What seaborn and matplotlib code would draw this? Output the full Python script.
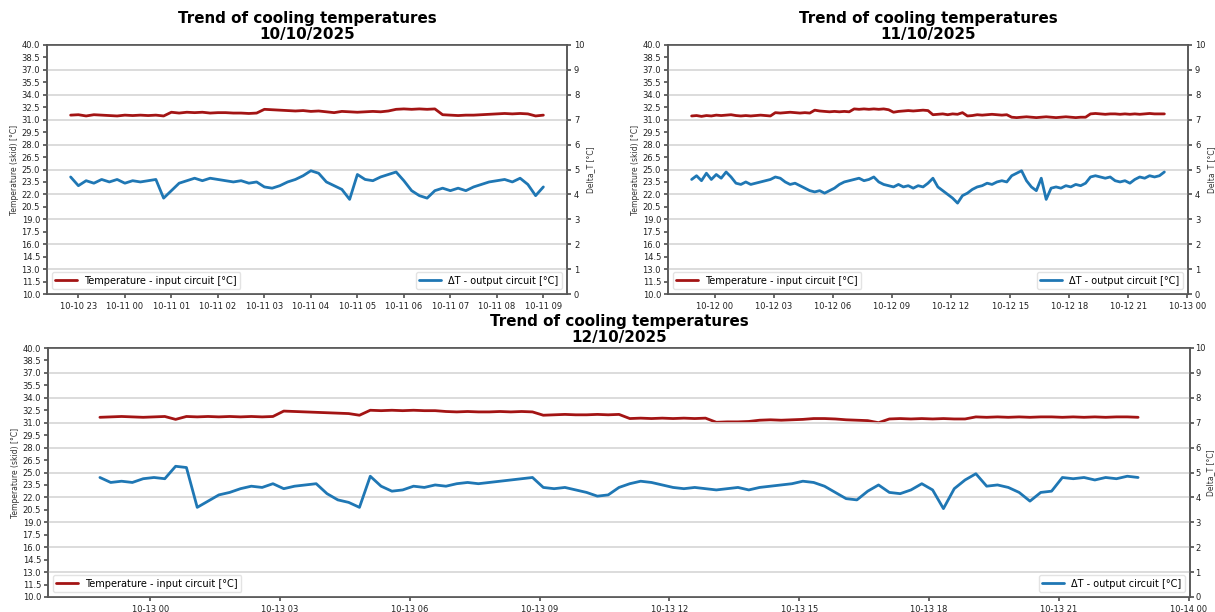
import pandas as pd
import matplotlib
matplotlib.use("Agg")
import matplotlib.pyplot as plt
import matplotlib.dates as mdates
import seaborn as sns

# ---------------- readings ----------------
title_main = "Trend of cooling temperatures"
input_label = "Temperature - input circuit [°C]"
delta_label = "ΔT - output circuit [°C]"
left_axis_label = "Temperature (skid) [°C]"
right_axis_label = "Delta_T [°C]"

# Day 1: 10-minute samples from 2025-10-10 22:50
day1_date = "10/10/2025"
day1_start = "2025-10-10 22:50"
day1_step = "10min"
day1_input = [31.55, 31.6, 31.45, 31.6, 31.55, 31.5, 31.45, 31.55, 31.5, 31.55, 31.5, 31.55, 31.45,
              31.9, 31.8, 31.9, 31.85, 31.9, 31.8, 31.85, 31.85, 31.8, 31.8, 31.75, 31.8,
              32.25, 32.2, 32.15, 32.1, 32.05, 32.1, 32.0, 32.05, 31.95, 31.85, 32.0, 31.95, 31.9,
              31.95, 32.0, 31.95, 32.05,
              32.25, 32.3, 32.25, 32.3, 32.25, 32.3,
              31.6, 31.55, 31.5, 31.55, 31.55, 31.6, 31.65, 31.7, 31.75, 31.7, 31.75, 31.7, 31.45, 31.55]
day1_delta = [4.7, 4.35, 4.55, 4.45, 4.6, 4.5, 4.6, 4.45, 4.55, 4.5, 4.55, 4.6, 3.85,
              4.15, 4.45, 4.55, 4.65, 4.55, 4.65, 4.6, 4.55, 4.5, 4.55, 4.45, 4.5,
              4.3, 4.25, 4.35, 4.5, 4.6, 4.75, 4.95, 4.85, 4.5, 4.35, 4.2, 3.8,
              4.8, 4.6, 4.55, 4.7, 4.8, 4.9, 4.55, 4.15, 3.95, 3.85, 4.15, 4.25, 4.15, 4.25, 4.15, 4.3,
              4.4, 4.5, 4.55, 4.6, 4.5, 4.65, 4.4, 3.95, 4.3]

# Day 2: 15-minute samples from 2025-10-11 22:50
day2_date = "11/10/2025"
day2_start = "2025-10-11 22:50"
day2_step = "15min"
day2_input = [31.45, 31.5, 31.4, 31.5, 31.45, 31.55, 31.5, 31.55, 31.6, 31.5, 31.45, 31.5, 31.45,
              31.5, 31.55, 31.5, 31.45,
              31.85, 31.8, 31.85, 31.9, 31.85, 31.8, 31.85, 31.8,
              32.15, 32.05, 32.0, 31.95, 32.0, 31.95, 32.0, 31.95,
              32.3, 32.25, 32.3, 32.25, 32.3, 32.25, 32.3, 32.2,
              31.9, 32.0, 32.05, 32.1, 32.05, 32.1, 32.15, 32.1,
              31.6, 31.65, 31.7, 31.6, 31.7, 31.65, 31.85,
              31.45, 31.5, 31.6, 31.55,
              31.6, 31.65, 31.6, 31.55, 31.6,
              31.3, 31.25, 31.3, 31.35, 31.3, 31.25, 31.3, 31.35, 31.3, 31.25, 31.3, 31.35, 31.3,
              31.25, 31.3, 31.3,
              31.7, 31.75, 31.7, 31.65, 31.7, 31.7, 31.65, 31.7, 31.65, 31.7, 31.65, 31.7, 31.75,
              31.7, 31.7, 31.7]
day2_delta = [4.6, 4.75, 4.55, 4.85, 4.6, 4.8, 4.65, 4.9, 4.7, 4.45,
              4.4, 4.5, 4.4, 4.45, 4.5, 4.55, 4.6, 4.7, 4.65, 4.5,
              4.4, 4.45, 4.35, 4.25, 4.15, 4.1, 4.15, 4.05, 4.15, 4.25,
              4.4, 4.5, 4.55, 4.6, 4.65, 4.55, 4.6, 4.7, 4.5, 4.4,
              4.35, 4.3, 4.4, 4.3, 4.35, 4.25, 4.35, 4.3, 4.45, 4.65,
              4.3, 4.15, 4.0, 3.85, 3.65, 3.95, 4.05, 4.2, 4.3, 4.35,
              4.45, 4.4, 4.5, 4.55, 4.5, 4.75, 4.85, 4.95, 4.55, 4.3,
              4.15, 4.65, 3.8, 4.25, 4.3, 4.25, 4.35, 4.3, 4.4, 4.35,
              4.45, 4.7, 4.75, 4.7, 4.65, 4.7, 4.55, 4.5, 4.55, 4.45,
              4.6, 4.7, 4.65, 4.75, 4.7, 4.75, 4.9]

# Day 3: 15-minute samples from 2025-10-12 22:50
day3_date = "12/10/2025"
day3_start = "2025-10-12 22:50"
day3_step = "15min"
day3_input = [31.65,
              31.7, 31.75, 31.7, 31.65, 31.7, 31.75,
              31.4,
              31.75, 31.7, 31.75, 31.7, 31.75, 31.7, 31.75, 31.7, 31.75,
              32.4, 32.35, 32.3, 32.25, 32.2, 32.15, 32.1,
              31.9,
              32.5, 32.45, 32.5, 32.45, 32.5, 32.45, 32.45,
              32.35, 32.3, 32.35, 32.3, 32.3, 32.35, 32.3, 32.35, 32.3,
              31.9, 31.95, 32.0, 31.95, 31.95, 32.0, 31.95, 32.0,
              31.5, 31.55, 31.5, 31.55, 31.5, 31.55, 31.5, 31.55,
              31.05, 31.1, 31.1, 31.15,
              31.3, 31.35, 31.3, 31.35, 31.4,
              31.5, 31.5, 31.45, 31.35, 31.3, 31.25, 31.0,
              31.45, 31.5, 31.45, 31.5, 31.45, 31.5, 31.45, 31.45,
              31.7, 31.65, 31.7, 31.65, 31.7, 31.65, 31.7, 31.7, 31.65, 31.7, 31.65, 31.7, 31.65,
              31.7, 31.7, 31.65]
day3_delta = [4.8, 4.6, 4.65, 4.6, 4.75, 4.8, 4.75, 5.25, 5.2, 3.6,
              3.85, 4.1, 4.2, 4.35, 4.45, 4.4, 4.55, 4.35, 4.45, 4.5,
              4.55, 4.15, 3.9, 3.8, 3.6, 4.85, 4.45, 4.25, 4.3, 4.45,
              4.4, 4.5, 4.45, 4.55, 4.6, 4.55, 4.6, 4.65, 4.7, 4.75,
              4.8, 4.4, 4.35, 4.4, 4.3, 4.2, 4.05, 4.1, 4.4, 4.55,
              4.65, 4.6, 4.5, 4.4, 4.35, 4.4, 4.35, 4.3, 4.35, 4.4,
              4.3, 4.4, 4.45, 4.5, 4.55, 4.65, 4.6, 4.45, 4.2, 3.95,
              3.9, 4.25, 4.5, 4.2, 4.15, 4.3, 4.55, 4.3, 3.55, 4.35,
              4.7, 4.95, 4.45, 4.5, 4.4, 4.2, 3.85, 4.2, 4.25, 4.8,
              4.75, 4.8, 4.7, 4.8, 4.75, 4.85, 4.8]

left_ticks = [10.0 + 1.5 * k for k in range(21)]
right_ticks = list(range(0, 11))

input_color = "#a31414"
delta_color = "#1f77b4"

# ---------------- style ----------------
sns.set_theme(style="ticks")
plt.rcParams["font.family"] = ["DejaVu Sans"]
plt.rcParams.update({
    "text.color": "black",
    "axes.labelcolor": "#333333",
    "axes.edgecolor": "#555555",
    "axes.linewidth": 1.1,
    "xtick.color": "#555555",
    "ytick.color": "#555555",
    "xtick.labelcolor": "#222222",
    "ytick.labelcolor": "#222222",
    "xtick.major.size": 3,
    "ytick.major.size": 3,
    "xtick.major.pad": 3,
    "ytick.major.pad": 2,
})

fig = plt.figure(figsize=(12.15, 6.12), dpi=100)
W, H = 1215.0, 612.0


def axes_at(left, top, right, bottom):
    return fig.add_axes([left / W, 1 - bottom / H, (right - left) / W, (bottom - top) / H])


def draw_panel(ax, date_txt, start, step, inp, delta, hour_interval, right_pad=2, right_labelpad=1):
    frame = pd.DataFrame({
        "time": pd.date_range(start=start, periods=len(inp), freq=step),
        "input": inp,
        "delta": delta,
    })
    sns.lineplot(data=frame, x="time", y="input", ax=ax, color=input_color,
                 linewidth=2.0, label=input_label, legend=False)
    ax.set_ylim(10, 40)
    ax.set_yticks(left_ticks)
    ax.set_yticklabels([f"{v:.1f}" for v in left_ticks])
    ax.tick_params(axis="both", labelsize=6)
    ax.set_xlabel("")
    ax.set_ylabel(left_axis_label, fontsize=5.5, labelpad=2)
    ax.xaxis.set_major_locator(mdates.HourLocator(byhour=range(0, 24, hour_interval)))
    ax.xaxis.set_major_formatter(mdates.DateFormatter("%m-%d %H"))

    ax2 = ax.twinx()
    sns.lineplot(data=frame, x="time", y="delta", ax=ax2, color=delta_color,
                 linewidth=2.0, label=delta_label, legend=False)
    ax2.set_ylim(0, 10)
    ax2.set_yticks(right_ticks)
    ax2.tick_params(axis="y", labelsize=6, pad=right_pad)
    ax2.set_ylabel(right_axis_label, fontsize=5.5, labelpad=right_labelpad)
    ax2.grid(True, axis="y", color="#d6d6d6", linewidth=1.2)
    ax2.set_axisbelow(True)
    for sp in ax2.spines.values():
        sp.set_color("#555555")

    ax.legend(loc="lower left", fontsize=7, frameon=True, borderpad=0.35,
              handlelength=2.2, edgecolor="#dddddd")
    ax2.legend(loc="lower right", fontsize=7, frameon=True, borderpad=0.35,
               handlelength=2.2, edgecolor="#dddddd")
    ax.set_title(f"{title_main}\n{date_txt}", fontsize=10.9, fontweight="bold",
                 pad=4, linespacing=1.1)


ax1 = axes_at(47, 45, 567, 294)
draw_panel(ax1, day1_date, day1_start, day1_step, day1_input, day1_delta, 1)

ax2 = axes_at(668, 45, 1188, 294)
draw_panel(ax2, day2_date, day2_start, day2_step, day2_input, day2_delta, 3)

ax3 = axes_at(48, 348, 1190, 597)
draw_panel(ax3, day3_date, day3_start, day3_step, day3_input, day3_delta, 3,
           right_pad=1, right_labelpad=0)

fig.savefig("out.png", dpi=100)
